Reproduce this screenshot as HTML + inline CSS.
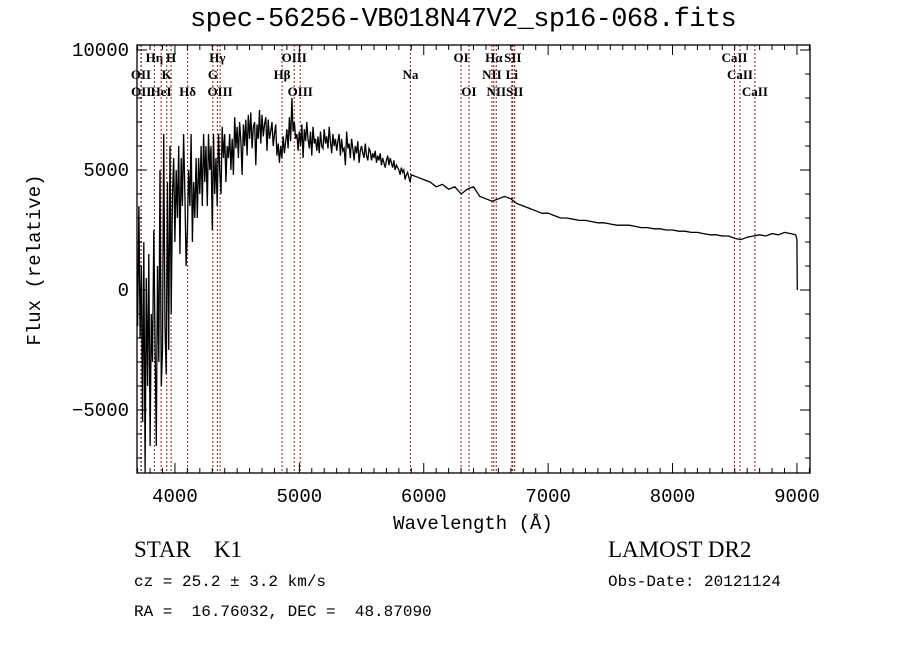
<!DOCTYPE html>
<html><head><meta charset="utf-8">
<style>
html,body{margin:0;padding:0;background:#fff;}
body{width:900px;height:649px;overflow:hidden;position:relative;font-family:"Liberation Mono",monospace;}
.t{position:absolute;white-space:pre;color:#000;}
</style></head>
<body>
<div class="t" style="left:190px;top:5px;font-size:27px;letter-spacing:-0.6px;">spec-56256-VB018N47V2_sp16-068.fits</div>
<svg id="chart" width="900" height="649" style="position:absolute;left:0;top:0"></svg>
<div class="t" style="left:134px;top:537px;font-size:23px;font-family:'Liberation Serif',serif;">STAR    K1</div>
<div class="t" style="left:134px;top:573px;font-size:16px;">cz = 25.2 ± 3.2 km/s</div>
<div class="t" style="left:134px;top:603px;font-size:16px;">RA =  16.76032, DEC =  48.87090</div>
<div class="t" style="left:608px;top:537px;font-size:23px;font-family:'Liberation Serif',serif;">LAMOST DR2</div>
<div class="t" style="left:608px;top:573px;font-size:16px;">Obs-Date: 20121124</div>
<script>
const wl=[
3700,3710,3720,3730,3740,3750,3760,3770,3780,3790,
3800,3810,3820,3830,3840,3850,3860,3870,3880,3890,
3900,3910,3920,3930,3940,3950,3960,3970,3980,3990,
4000,4010,4020,4030,4040,4050,4060,4070,4080,4090,
4100,4110,4120,4130,4140,4150,4160,4170,4180,4190,
4200,4210,4220,4230,4240,4250,4260,4270,4280,4290,
4300,4310,4320,4330,4340,4350,4360,4370,4380,4390,
4400,4410,4420,4430,4440,4450,4460,4470,4480,4490,
4500,4510,4520,4530,4540,4550,4560,4570,4580,4590,
4600,4610,4620,4630,4640,4650,4660,4670,4680,4690,
4700,4710,4720,4730,4740,4750,4760,4770,4780,4790,
4800,4810,4820,4830,4840,4850,4860,4870,4880,4890,
4900,4910,4920,4930,4940,4950,4960,4970,4980,4990,
5000,5010,5020,5030,5040,5050,5060,5070,5080,5090,
5100,5110,5120,5130,5140,5150,5160,5170,5180,5190,
5200,5210,5220,5230,5240,5250,5260,5270,5280,5290,
5300,5310,5320,5330,5340,5350,5360,5370,5380,5390,
5400,5410,5420,5430,5440,5450,5460,5470,5480,5490,
5500,5510,5520,5530,5540,5550,5560,5570,5580,5590,
5600,5610,5620,5630,5640,5650,5660,5670,5680,5690,
5700,5710,5720,5730,5740,5750,5760,5770,5780,5790,
5800,5810,5820,5830,5840,5850,5860,5870,5880,5890,
5900,5950,6000,6050,6100,6150,6200,6250,6300,6350,
6400,6450,6500,6550,6600,6650,6700,6750,6800,6850,
6900,6950,7000,7050,7100,7150,7200,7250,7300,7350,
7400,7450,7500,7550,7600,7650,7700,7750,7800,7850,
7900,7950,8000,8050,8100,8150,8200,8250,8300,8350,
8400,8450,8500,8550,8600,8650,8700,8750,8800,8850,
8900,8950,8990,9000,9003];
const flux=[
-1500,3500,-2000,1000,-5500,2000,-7600,500,-4000,1500,
-6500,-1000,-3000,2500,-2000,-6500,1000,-3000,5000,-4000,
-2500,6500,-1500,-3500,4500,-2500,6000,-1000,4000,5500,
2000,5000,3000,6000,1500,5500,3500,6500,4000,1000,
2500,5000,3500,6500,2000,4500,3000,5500,3000,5500,
4000,6000,3500,6500,4500,6000,3500,6500,5000,6000,
2500,6500,4000,5500,3500,6500,5000,4000,6800,5500,
6500,4500,6000,5500,6500,5000,6300,4800,7200,5900,
6800,5500,7000,6200,4800,6900,6000,7100,5600,7300,
6300,7400,5900,6800,7000,5200,6900,6300,7500,6100,
7300,6400,6900,7200,5800,7100,6300,6600,7000,6000,
6500,6900,5600,6100,5300,6000,5500,6400,5700,6200,
6700,5900,7200,6200,8000,6600,7000,6300,6500,5800,
6600,6000,6900,5500,6700,6200,7000,6300,5900,6600,
5600,6800,6100,6300,5800,6400,5700,6600,6000,5900,
6700,6100,6400,5900,6800,6200,5700,6500,6000,6300,
5800,6200,6500,5600,6300,5800,5900,5200,6600,5900,
6100,5500,6300,5900,5400,6000,5700,6200,5300,5800,
6000,5700,5500,6100,5600,5400,5900,5800,5400,5700,
5500,5800,5300,5600,5400,5700,5200,5500,5300,5100,
5400,5600,5200,5500,5300,5100,5400,5000,5200,5100,
5000,4800,5100,4900,5000,4600,4800,4900,4700,4500,
4800,4700,4600,4500,4300,4400,4200,4300,4000,4200,
4300,3900,3800,3700,3800,3900,3800,3600,3500,3400,
3300,3200,3200,3100,3000,3000,2950,2900,2900,2850,
2800,2800,2750,2700,2700,2700,2650,2600,2600,2550,
2550,2500,2500,2450,2450,2400,2400,2350,2300,2300,
2250,2250,2150,2100,2200,2250,2300,2250,2350,2300,
2400,2350,2300,2100,0];
const xTicks=[4000,5000,6000,7000,8000,9000];
const yTicks=[-5000,0,5000,10000];
const lineWl=[3727,3729,3835,3889,3934,3969,4102,4305,4341,4363,4861,4959,5007,5893,6300,6364,6548,6563,6583,6708,6716,6731,8498,8542,8662];
const lineLabel=["OII","OII","Hη","HeI","K","H","Hδ","G","Hγ","OIII","Hβ","OIII","OIII","Na","OI","OI","NII","Hα","NII","Li","SII","SII","CaII","CaII","CaII"];
const lineRow=[1,2,0,2,1,0,2,1,0,2,1,0,2,1,0,2,1,0,2,1,0,2,0,1,2];

const L=137,R=810,T=45,B=473;
const X0=3695,X1=9105,Y0=-7625,Y1=10208;
const sx=w=>L+(w-X0)/(X1-X0)*(R-L);
const sy=f=>B-(f-Y0)/(Y1-Y0)*(B-T);
const svg=document.getElementById('chart');
const NS='http://www.w3.org/2000/svg';
function mk(tag,attrs){const e=document.createElementNS(NS,tag);for(const k in attrs)e.setAttribute(k,attrs[k]);svg.appendChild(e);return e;}

lineWl.forEach((w,i)=>{
  const x=sx(w);
  const l=mk('line',{x1:x,x2:x,y1:T,y2:B,stroke:'#8b1a1a','stroke-width':1,'stroke-dasharray':'2,2'});
  
  
  const t=mk('text',{x:x,y:62+lineRow[i]*17,'font-size':13,'font-weight':'bold','font-family':'Liberation Serif,serif','text-anchor':'middle',fill:'#000'});
  t.textContent=lineLabel[i];
  
  
});

const pts=wl.map((w,i)=>sx(w).toFixed(1)+','+sy(flux[i]).toFixed(1)).join(' ');
const pl=mk('polyline',{points:pts,fill:'none',stroke:'#000','stroke-width':1.3});



const fr=mk('rect',{x:L,y:T,width:R-L,height:B-T,fill:'none',stroke:'#000','stroke-width':1.3});



for(let w=3700;w<=9100;w+=100){
  const x=sx(w);const maj=w%1000===0;const len=maj?10:5;
  mk('line',{x1:x,x2:x,y1:B,y2:B-len,stroke:'#000'});
  mk('line',{x1:x,x2:x,y1:T,y2:T+len,stroke:'#000'});
}
xTicks.forEach(w=>{
  const t=mk('text',{x:sx(w),y:502,'font-size':19,'font-family':'Liberation Mono,monospace','text-anchor':'middle'});
  t.textContent=w;
  
  
});
for(let f=-7000;f<=10000;f+=1000){
  const y=sy(f);const maj=f%5000===0;const len=maj?10:5;
  mk('line',{x1:L,x2:L+len,y1:y,y2:y,stroke:'#000'});
  mk('line',{x1:R,x2:R-len,y1:y,y2:y,stroke:'#000'});
}
yTicks.forEach(f=>{
  const t=mk('text',{x:129,y:sy(f)+6,'font-size':19,'font-family':'Liberation Mono,monospace','text-anchor':'end'});
  t.textContent=f<0?'\u2212'+(-f):f;
  
  
});
const xt=mk('text',{x:473,y:529,'font-size':19,'font-family':'Liberation Mono,monospace','text-anchor':'middle'});
xt.textContent='Wavelength (Å)';


const yt=mk('text',{x:0,y:0,'font-size':19,'font-family':'Liberation Mono,monospace','text-anchor':'middle',transform:'translate(40,260) rotate(-90)'});
yt.textContent='Flux (relative)';


</script>
</body></html>
